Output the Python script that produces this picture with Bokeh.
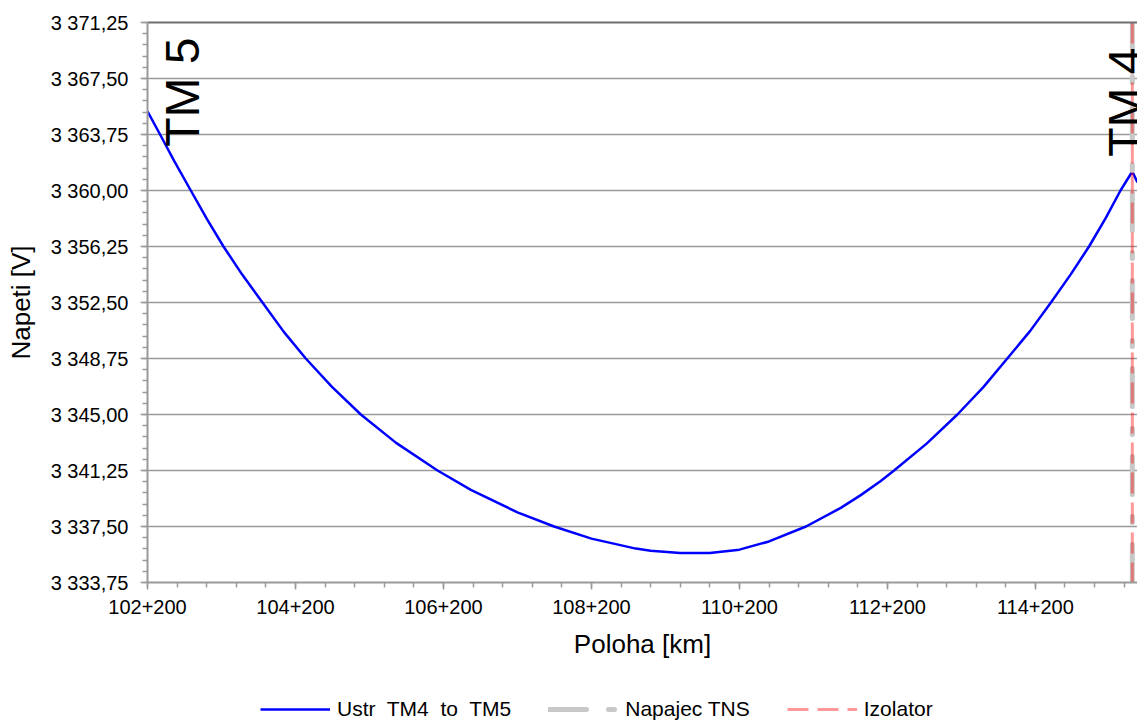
import numpy as np
from bokeh.plotting import figure
from bokeh.layouts import column
from bokeh.models import Range1d, FixedTicker, LinearAxis, Legend, LegendItem
from bokeh.core.properties import value
from bokeh.embed import file_html
from bokeh.resources import INLINE

# ---- data ----
poloha_km = [102.20, 102.37, 102.56, 102.785, 103.00, 103.227, 103.48, 103.754, 104.04,
             104.339, 104.69, 105.083, 105.56, 106.12, 106.57, 107.20, 107.695, 108.20,
             108.80, 109.00, 109.40, 109.80, 110.20, 110.60, 111.10, 111.57, 111.84,
             112.11, 112.29, 112.73, 113.146, 113.50, 113.82, 114.13, 114.41, 114.68,
             114.925, 115.15, 115.35, 115.51, 115.58]
napeti_v = [3365.30, 3363.75, 3361.98, 3360.00, 3358.12, 3356.25, 3354.37, 3352.50, 3350.55,
            3348.75, 3346.87, 3345.00, 3343.10, 3341.25, 3339.95, 3338.45, 3337.50, 3336.69,
            3336.02, 3335.88, 3335.72, 3335.73, 3335.95, 3336.50, 3337.50, 3338.75, 3339.60,
            3340.55, 3341.25, 3343.05, 3345.00, 3346.85, 3348.75, 3350.60, 3352.50, 3354.40,
            3356.25, 3358.15, 3360.00, 3361.27, 3360.54]

tns_km = [115.51]        # Napajec TNS
izolator_km = [115.51]   # Izolator
station_labels = ["TM 5", "TM 4"]

x_ticks = [102.2, 104.2, 106.2, 108.2, 110.2, 112.2, 114.2]
x_tick_labels = ["102+200", "104+200", "106+200", "108+200", "110+200", "112+200", "114+200"]
y_ticks = [3333.75, 3337.50, 3341.25, 3345.00, 3348.75, 3352.50, 3356.25, 3360.00,
           3363.75, 3367.50, 3371.25]
y_tick_labels = ["3 333,75", "3 337,50", "3 341,25", "3 345,00", "3 348,75", "3 352,50",
                 "3 356,25", "3 360,00", "3 363,75", "3 367,50", "3 371,25"]

series_labels = ["Ustr  TM4  to  TM5", "Napajec TNS", "Izolator"]

x_min, x_max = 102.2, 115.58
y_min, y_max = y_ticks[0], y_ticks[-1]

FONT = "Liberation Sans"
AX_COL = "#9a9a9a"

U_STYLE = dict(line_color="#0000ff", line_width=2.5)
T_STYLE = dict(line_color="#c8c8c8", line_width=5, line_dash="38 22 6 22", line_cap="round")
I_STYLE = dict(line_color="#ff0000", line_alpha=0.4, line_width=3, line_dash="21 9")

p = figure(width=1137, height=674, output_backend="svg", toolbar_location=None,
           x_range=Range1d(x_min, x_max), y_range=Range1d(y_min, y_max),
           min_border_left=147, min_border_right=0, min_border_top=22,
           min_border_bottom=92,
           x_axis_label="Poloha [km]", y_axis_label="Napeti [V]")
p.outline_line_color = None
p.background_fill_color = "white"
p.border_fill_color = "white"

# axes
p.xaxis.ticker = FixedTicker(ticks=x_ticks, minor_ticks=list(np.round(np.arange(x_min, x_max, 0.4), 3)))
p.xaxis.major_label_overrides = dict(zip(x_ticks, x_tick_labels))
p.yaxis.ticker = FixedTicker(ticks=y_ticks, minor_ticks=list(np.round(np.arange(y_min, y_max + 0.01, 0.75), 3)))
p.yaxis.major_label_overrides = dict(zip(y_ticks, y_tick_labels))
for ax in (p.xaxis[0], p.yaxis[0]):
    ax.axis_line_color = AX_COL
    ax.axis_line_width = 2
    ax.major_tick_line_color = AX_COL
    ax.minor_tick_line_color = AX_COL
    ax.major_tick_line_width = 1.5
    ax.minor_tick_line_width = 1.5
    ax.major_tick_in = 0
    ax.minor_tick_in = 0
    ax.major_tick_out = 7
    ax.minor_tick_out = 5
    ax.major_label_text_font = FONT
    ax.major_label_text_font_size = "20px"
    ax.major_label_text_color = "black"
    ax.axis_label_text_font = FONT
    ax.axis_label_text_font_size = "26px"
    ax.axis_label_text_font_style = "normal"
    ax.axis_label_text_color = "black"
p.xaxis.major_label_standoff = 10
p.xaxis.axis_label_standoff = 12
p.yaxis.major_label_standoff = 12
p.yaxis.axis_label_standoff = 12

top = LinearAxis(ticker=FixedTicker(ticks=[]), axis_line_color="#6e6e6e", axis_line_width=2,
                 major_tick_out=0, major_tick_in=0, minor_tick_out=0, minor_tick_in=0,
                 major_label_text_font_size="0px", major_label_standoff=0)
p.add_layout(top, "above")

p.xgrid.visible = False
p.ygrid.grid_line_color = "#9a9a9a"
p.ygrid.grid_line_width = 1.5

# series
p.line(poloha_km, napeti_v, line_join="round", **U_STYLE)
p.segment(x0=tns_km, y0=[y_min], x1=tns_km, y1=[y_max], **T_STYLE)
p.segment(x0=izolator_km, y0=[y_max], x1=izolator_km, y1=[y_min], **I_STYLE)

# station labels
p.text(x=[poloha_km[0]], y=[y_max], text=[station_labels[0]], angle=np.pi / 2,
       text_align="right", text_baseline="middle", x_offset=35, y_offset=15,
       text_font=value(FONT), text_font_size="48px", text_color="black")
p.text(x=[tns_km[0]], y=[y_max], text=[station_labels[1]], angle=np.pi / 2,
       text_align="right", text_baseline="middle", x_offset=-7, y_offset=25,
       text_font=value(FONT), text_font_size="48px", text_color="black")

# legend strip below the chart (same series drawn again, outside its visible range,
# so that the legend can show their line styles)
lg = figure(width=1137, height=46, output_backend="svg", toolbar_location=None,
            x_range=Range1d(0, 1), y_range=Range1d(0, 1), min_border=0,
            x_axis_location=None, y_axis_location=None)
lg.outline_line_color = None
lg.grid.visible = False
lr_u = lg.line(poloha_km, napeti_v, **U_STYLE)
lr_t = lg.segment(x0=tns_km, y0=[y_min], x1=tns_km, y1=[y_max], **T_STYLE)
lr_i = lg.segment(x0=izolator_km, y0=[y_max], x1=izolator_km, y1=[y_min], **I_STYLE)
legend = Legend(items=[LegendItem(label=series_labels[0], renderers=[lr_u]),
                       LegendItem(label=series_labels[1], renderers=[lr_t]),
                       LegendItem(label=series_labels[2], renderers=[lr_i])],
                orientation="horizontal", location=(113, -1), glyph_width=70,
                glyph_height=20, label_standoff=7, spacing=37, padding=0, margin=0,
                border_line_color=None, background_fill_alpha=0,
                label_text_font=FONT, label_text_font_size="21px", label_text_color="black")
lg.add_layout(legend, "center")

layout = column(p, lg, spacing=0)
open("out.html", "w").write(file_html(layout, INLINE))
